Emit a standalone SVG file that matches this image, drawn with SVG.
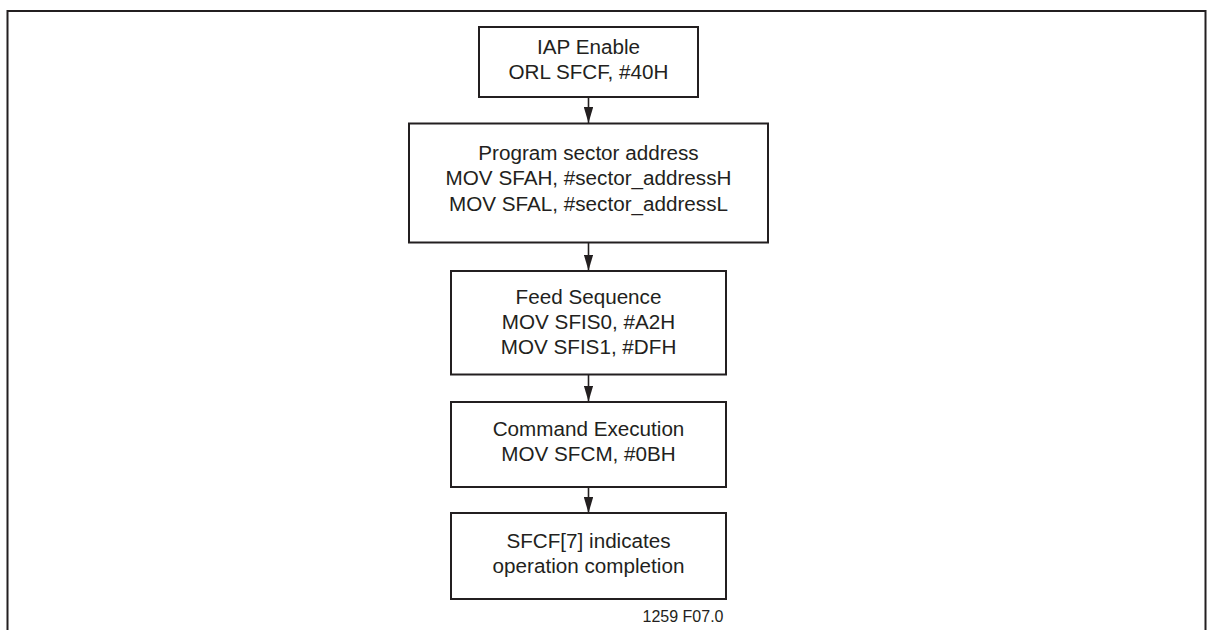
<svg xmlns="http://www.w3.org/2000/svg" width="1212" height="630" viewBox="0 0 1212 630">
  <defs>
    <style>
      .box { fill: #ffffff; stroke: #231f20; stroke-width: 2; }
      .frame { fill: none; stroke: #231f20; stroke-width: 2; }
      .lbl { font-family: "Liberation Sans", Arial, sans-serif; font-size: 19.5px; fill: #231f20; text-anchor: middle; }
      .note { font-family: "Liberation Sans", Arial, sans-serif; font-size: 16px; fill: #231f20; text-anchor: end; }
      .conn { stroke: #231f20; stroke-width: 1.6; fill: none; marker-end: url(#arrow); }
    </style>
    <marker id="arrow" markerWidth="16" markerHeight="9.5" refX="16" refY="4.75" orient="auto" markerUnits="userSpaceOnUse" viewBox="0 0 16 9.5">
      <path d="M0,0 L16,4.75 L0,9.5 Z" fill="#231f20"/>
    </marker>
  </defs>
  <rect width="1212" height="630" fill="#ffffff"/>
  <path class="frame" d="M7.5,640 V11 H1205.5 V640"/>

  <g id="connectors">
    <line class="conn" x1="588.5" y1="97" x2="588.5" y2="123"/>
    <line class="conn" x1="588.5" y1="242" x2="588.5" y2="270.5"/>
    <line class="conn" x1="588.5" y1="374.5" x2="588.5" y2="401.5"/>
    <line class="conn" x1="588.5" y1="487" x2="588.5" y2="513"/>
  </g>

  <g id="node-iap-enable">
    <rect class="box" x="479" y="27" width="219" height="70"/>
    <text class="lbl" transform="translate(588.5 54) scale(1.06 1)">IAP Enable</text>
    <text class="lbl" transform="translate(588.5 79) scale(1.06 1)">ORL SFCF, #40H</text>
  </g>

  <g id="node-sector-address">
    <rect class="box" x="409" y="123.5" width="359" height="119"/>
    <text class="lbl" transform="translate(588.5 160) scale(1.06 1)">Program sector address</text>
    <text class="lbl" transform="translate(588.5 185) scale(1.06 1)">MOV SFAH, #sector_addressH</text>
    <text class="lbl" transform="translate(588.5 210.5) scale(1.06 1)">MOV SFAL, #sector_addressL</text>
  </g>

  <g id="node-feed-sequence">
    <rect class="box" x="451" y="271" width="275" height="103.5"/>
    <text class="lbl" transform="translate(588.5 304) scale(1.06 1)">Feed Sequence</text>
    <text class="lbl" transform="translate(588.5 329) scale(1.06 1)">MOV SFIS0, #A2H</text>
    <text class="lbl" transform="translate(588.5 354) scale(1.06 1)">MOV SFIS1, #DFH</text>
  </g>

  <g id="node-command-execution">
    <rect class="box" x="451" y="402" width="275" height="85"/>
    <text class="lbl" transform="translate(588.5 436) scale(1.06 1)">Command Execution</text>
    <text class="lbl" transform="translate(588.5 461) scale(1.06 1)">MOV SFCM, #0BH</text>
  </g>

  <g id="node-completion">
    <rect class="box" x="451" y="513" width="275" height="86"/>
    <text class="lbl" transform="translate(588.5 548) scale(1.06 1)">SFCF[7] indicates</text>
    <text class="lbl" transform="translate(588.5 573) scale(1.06 1)">operation completion</text>
  </g>

  <text class="note" x="723.5" y="622">1259 F07.0</text>
</svg>
